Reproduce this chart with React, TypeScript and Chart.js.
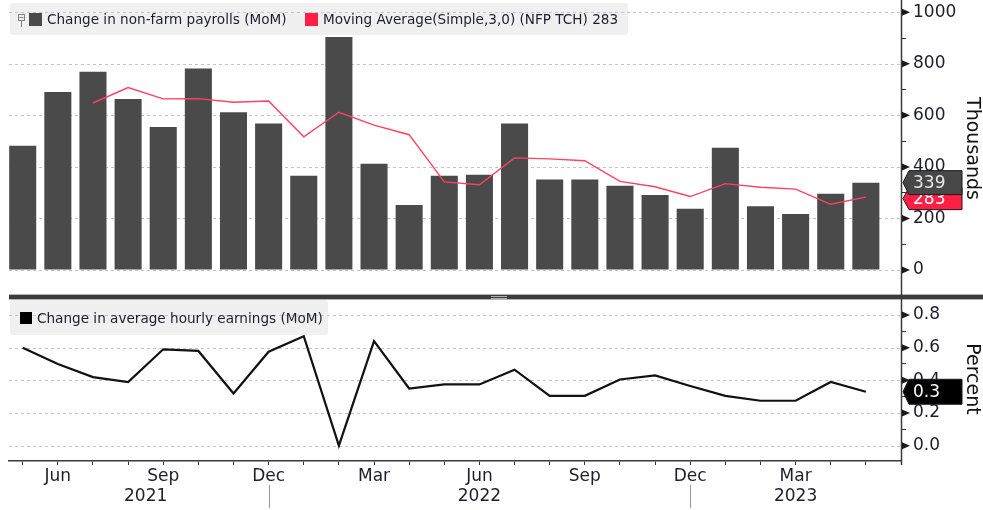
import React, { useEffect, useRef } from 'react';
import { Chart, registerables } from 'chart.js';

Chart.register(...registerables);

// ---------- data ----------
const months = [
  'May 2021', 'Jun 2021', 'Jul 2021', 'Aug 2021', 'Sep 2021', 'Oct 2021', 'Nov 2021', 'Dec 2021',
  'Jan 2022', 'Feb 2022', 'Mar 2022', 'Apr 2022', 'May 2022', 'Jun 2022', 'Jul 2022', 'Aug 2022',
  'Sep 2022', 'Oct 2022', 'Nov 2022', 'Dec 2022', 'Jan 2023', 'Feb 2023', 'Mar 2023', 'Apr 2023', 'May 2023',
];
// tick labels for month slots (26 slots: May 2021 .. Jun 2023 edge)
const monthTickLabels = [
  '', 'Jun', '', '', 'Sep', '', '', 'Dec', '', '', 'Mar', '', '', 'Jun', '', '', 'Sep', '', '', 'Dec', '', '', 'Mar', '', '', '',
];
const yearLabels = ['2021', '2022', '2023'];
const yearCenters = [3.5, 13, 22]; // in month-slot units
const yearBreaks = [7, 19]; // December slots

const nfp = [482, 691, 769, 664, 555, 782, 612, 568, 366, 904, 412, 252, 366, 370, 568, 351, 351, 327, 291, 238, 474, 247, 217, 296, 339];
const nfpMA = [null, null, 648, 708, 664, 665, 651, 656, 517, 612, 562, 525, 342, 331, 435, 431, 424, 344, 323, 285, 335, 321, 314, 255, 283];
const ahe = [0.6, 0.5, 0.42, 0.39, 0.59, 0.58, 0.32, 0.575, 0.67, 0.0, 0.64, 0.35, 0.375, 0.375, 0.465, 0.305, 0.305, 0.405, 0.43, 0.365, 0.305, 0.275, 0.275, 0.39, 0.33];

const nfpTicks = [0, 100, 200, 300, 400, 500, 600, 700, 800, 900, 1000];
const aheTicks = [0, 0.1, 0.2, 0.3, 0.4, 0.5, 0.6, 0.7, 0.8];

const legendTop = ['Change in non-farm payrolls (MoM)', 'Moving Average(Simple,3,0) (NFP TCH)'];
const legendBottom = 'Change in average hourly earnings (MoM)';

const FONT = 'DejaVu Sans';
const BAR_COLOR = '#4a4a4a';
const MA_COLOR = '#ff4062';
const TAG_RED = '#ff1f44';

const isMajorN = (v: number) => Math.round(v) % 200 === 0;
const isMajorA = (v: number) => Math.round(v * 10) % 2 === 0;

function lastVal(arr: (number | null)[]) {
  for (let i = arr.length - 1; i >= 0; i--) if (arr[i] != null) return arr[i] as number;
  return 0;
}

function drawTag(ctx: CanvasRenderingContext2D, xTip: number, yc: number, w: number, h: number, fill: string, txtColor: string, text: string) {
  ctx.save();
  ctx.beginPath();
  ctx.moveTo(xTip, yc);
  ctx.lineTo(xTip + 6, yc - h / 2);
  ctx.lineTo(xTip + w, yc - h / 2);
  ctx.lineTo(xTip + w, yc + h / 2);
  ctx.lineTo(xTip + 6, yc + h / 2);
  ctx.closePath();
  ctx.fillStyle = fill;
  ctx.fill();
  ctx.lineWidth = 1;
  ctx.strokeStyle = '#1a1a1a';
  ctx.stroke();
  ctx.fillStyle = txtColor;
  ctx.font = `17px "${FONT}"`;
  ctx.textAlign = 'left';
  ctx.textBaseline = 'middle';
  ctx.fillText(text, xTip + 10, yc + 1);
  ctx.restore();
}

const decorPlugin = {
  id: 'decor',
  beforeDatasetsDraw(chart: any) {
    const ctx = chart.ctx as CanvasRenderingContext2D;
    const area = chart.chartArea;
    const y = chart.scales.y;
    const y2 = chart.scales.y2;
    ctx.save();
    // legend backgrounds
    ctx.fillStyle = '#f0f0f0';
    ctx.beginPath();
    (ctx as any).roundRect(10, 3, 618, 32, 3);
    ctx.fill();
    ctx.beginPath();
    (ctx as any).roundRect(10, 300, 318, 35, 3);
    ctx.fill();
    // dotted grid lines at major ticks
    ctx.strokeStyle = '#c2c4cc';
    ctx.lineWidth = 1;
    ctx.setLineDash([3, 3]);
    nfpTicks.filter(isMajorN).forEach((v) => {
      const py = Math.round(y.getPixelForValue(v)) + 0.5;
      ctx.beginPath();
      ctx.moveTo(area.left, py);
      ctx.lineTo(area.right, py);
      ctx.stroke();
    });
    aheTicks.filter(isMajorA).forEach((v) => {
      const py = Math.round(y2.getPixelForValue(v)) + 0.5;
      ctx.beginPath();
      ctx.moveTo(area.left, py);
      ctx.lineTo(area.right, py);
      ctx.stroke();
    });
    ctx.restore();
  },
  afterDraw(chart: any) {
    const ctx = chart.ctx as CanvasRenderingContext2D;
    const area = chart.chartArea;
    const x = chart.scales.x;
    const y = chart.scales.y;
    const y2 = chart.scales.y2;
    ctx.save();

    // legend contents (top)
    ctx.font = `13.6px "${FONT}"`;
    ctx.textBaseline = 'middle';
    ctx.textAlign = 'left';
    // pin icon
    ctx.strokeStyle = '#808080';
    ctx.lineWidth = 1;
    ctx.strokeRect(18.5, 14.5, 6, 6);
    ctx.beginPath();
    ctx.moveTo(19.5, 17.5);
    ctx.lineTo(23.5, 17.5);
    ctx.moveTo(21.5, 20.5);
    ctx.lineTo(21.5, 27);
    ctx.stroke();
    ctx.fillStyle = BAR_COLOR;
    ctx.fillRect(29, 13, 13, 13);
    ctx.fillStyle = '#1e1e2a';
    ctx.fillText(legendTop[0], 47, 20);
    ctx.fillStyle = TAG_RED;
    ctx.fillRect(305, 13, 13, 13);
    ctx.fillStyle = '#1e1e2a';
    ctx.fillText(`${legendTop[1]} ${lastVal(nfpMA)}`, 323, 20);

    // legend bottom
    ctx.fillStyle = '#000';
    ctx.fillRect(20, 312, 12, 12);
    ctx.fillStyle = '#1e1e2a';
    ctx.fillText(legendBottom, 37, 319);

    // panel separator
    ctx.fillStyle = '#b4b4b4';
    ctx.fillRect(area.left, 294, 983 - area.left, 6);
    ctx.fillStyle = '#3c3c3c';
    ctx.fillRect(area.left, 295, 983 - area.left, 4);
    ctx.fillStyle = '#b0b0b0';
    ctx.fillRect(491, 296, 16, 1);
    ctx.fillRect(491, 298, 16, 1);

    // right axis line
    ctx.strokeStyle = '#3a3a3a';
    ctx.lineWidth = 1.5;
    ctx.beginPath();
    ctx.moveTo(area.right + 0.5, 0);
    ctx.lineTo(area.right + 0.5, area.bottom + 4);
    ctx.stroke();

    // triangle markers at major ticks
    ctx.fillStyle = '#1a1a1a';
    const tri = (py: number) => {
      ctx.beginPath();
      ctx.moveTo(area.right + 1, py - 3.5);
      ctx.lineTo(area.right + 9, py);
      ctx.lineTo(area.right + 1, py + 3.5);
      ctx.closePath();
      ctx.fill();
    };
    nfpTicks.filter(isMajorN).forEach((v) => tri(y.getPixelForValue(v)));
    aheTicks.filter(isMajorA).forEach((v) => tri(y2.getPixelForValue(v)));

    // axis titles
    ctx.fillStyle = '#111';
    ctx.font = `19px "${FONT}"`;
    ctx.textAlign = 'center';
    ctx.textBaseline = 'alphabetic';
    const titles: [string, number][] = [
      ['Thousands', (y.top + y.bottom) / 2],
      ['Percent', (y2.top + y2.bottom) / 2],
    ];
    titles.forEach(([t, cy]) => {
      ctx.save();
      ctx.translate(967, cy);
      ctx.rotate(Math.PI / 2);
      ctx.fillText(t, 0, 0);
      ctx.restore();
    });

    // year labels and separators
    ctx.font = `17px "${FONT}"`;
    ctx.fillStyle = '#1e1e2a';
    ctx.textAlign = 'center';
    ctx.textBaseline = 'middle';
    yearLabels.forEach((t, i) => {
      ctx.fillText(t, x.getPixelForValue(yearCenters[i]), 497);
    });
    ctx.strokeStyle = '#9a9a9a';
    ctx.lineWidth = 1;
    yearBreaks.forEach((v) => {
      const px = Math.round(x.getPixelForValue(v)) + 0.5;
      ctx.beginPath();
      ctx.moveTo(px, 485);
      ctx.lineTo(px, 508);
      ctx.stroke();
    });

    // last-value tags
    const nLast = lastVal(nfp);
    const maLast = lastVal(nfpMA);
    const aLast = lastVal(ahe);
    const pN = y.getPixelForValue(nLast);
    const pM = Math.max(y.getPixelForValue(maLast), pN + 16);
    drawTag(ctx, area.right + 2, pM, 59, 22, TAG_RED, '#ffffff', String(maLast));
    drawTag(ctx, area.right + 2, pN, 59, 24, '#474747', '#e8e8e8', String(nLast));
    drawTag(ctx, area.right + 2, y2.getPixelForValue(aLast), 59, 25, '#000000', '#ffffff', aLast.toFixed(1));

    ctx.restore();
  },
};

const fitY = (s: any) => {
  s.width = 82;
  s.paddingTop = 0;
  s.paddingBottom = 0;
};

export default function App() {
  const ref = useRef<HTMLCanvasElement | null>(null);

  useEffect(() => {
    if (!ref.current) return;
    Chart.defaults.font.family = FONT;
    const chart = new Chart(ref.current, {
      type: 'bar',
      data: {
        labels: months,
        datasets: [
          {
            type: 'line',
            label: legendTop[1],
            data: nfpMA.map((v, i) => ({ x: i, y: v })).filter((p) => p.y != null) as any,
            xAxisID: 'x',
            yAxisID: 'y',
            borderColor: MA_COLOR,
            borderWidth: 1.4,
            pointRadius: 0,
            tension: 0,
            order: 1,
          },
          {
            type: 'bar',
            label: legendTop[0],
            data: nfp.map((v, i) => ({ x: i, y: v })) as any,
            xAxisID: 'x',
            yAxisID: 'y',
            backgroundColor: BAR_COLOR,
            borderWidth: 0,
            barPercentage: 0.77,
            categoryPercentage: 1,
            order: 2,
          },
          {
            type: 'line',
            label: legendBottom,
            data: ahe.map((v, i) => ({ x: i, y: v })) as any,
            xAxisID: 'x',
            yAxisID: 'y2',
            borderColor: '#111111',
            borderWidth: 2.2,
            pointRadius: 0,
            tension: 0,
            order: 0,
          },
        ],
      },
      options: {
        responsive: false,
        animation: false,
        layout: { padding: { left: 9, top: 0, right: 0, bottom: 0 } },
        plugins: {
          legend: { display: false },
          tooltip: { enabled: false },
          title: { display: false },
        },
        scales: {
          x: {
            type: 'linear',
            position: 'bottom',
            min: -0.39,
            max: 25,
            offset: false,
            afterBuildTicks: (s: any) => {
              s.ticks = monthTickLabels.map((_, i) => ({ value: i }));
            },
            afterFit: (s: any) => {
              s.height = 49;
              s.paddingLeft = 0;
              s.paddingRight = 0;
            },
            ticks: {
              autoSkip: false,
              maxRotation: 0,
              minRotation: 0,
              padding: 1,
              color: '#1e1e2a',
              font: { size: 17, family: FONT },
              callback: (v: any) => monthTickLabels[Math.round(v)] ?? '',
            },
            grid: {
              offset: false,
              drawOnChartArea: false,
              drawTicks: true,
              tickLength: 4,
              tickColor: '#333',
              tickWidth: 1,
            },
            border: { display: true, color: '#3a3a3a', width: 1.5 },
          },
          y: {
            type: 'linear',
            position: 'right',
            stack: 'panels',
            stackWeight: 297,
            min: -104.8,
            max: 1047.7,
            afterBuildTicks: (s: any) => {
              s.ticks = nfpTicks.map((v) => ({ value: v }));
            },
            afterFit: fitY,
            ticks: {
              autoSkip: false,
              padding: 7,
              color: '#1e1e2a',
              font: { size: 17, family: FONT },
              callback: (v: any) => (isMajorN(v) ? String(Math.round(v)) : ''),
            },
            grid: {
              drawOnChartArea: false,
              tickLength: 5,
              tickColor: '#333',
              tickWidth: 1,
            },
            border: { display: false },
          },
          y2: {
            type: 'linear',
            position: 'right',
            stack: 'panels',
            stackWeight: 164,
            min: -0.0936,
            max: 0.91,
            afterBuildTicks: (s: any) => {
              s.ticks = aheTicks.map((v) => ({ value: v }));
            },
            afterFit: fitY,
            ticks: {
              autoSkip: false,
              padding: 7,
              color: '#1e1e2a',
              font: { size: 17, family: FONT },
              callback: (v: any) => (isMajorA(v) ? Number(v).toFixed(1) : ''),
            },
            grid: {
              drawOnChartArea: false,
              tickLength: 5,
              tickColor: '#333',
              tickWidth: 1,
            },
            border: { display: false },
          },
        },
      } as any,
      plugins: [decorPlugin],
    });
    return () => chart.destroy();
  }, []);

  return (
    <div style={{ position: 'fixed', left: 0, top: 0, width: 983, height: 510, background: '#fff' }}>
      <canvas ref={ref} width={983} height={510} style={{ display: 'block' }} />
    </div>
  );
}
